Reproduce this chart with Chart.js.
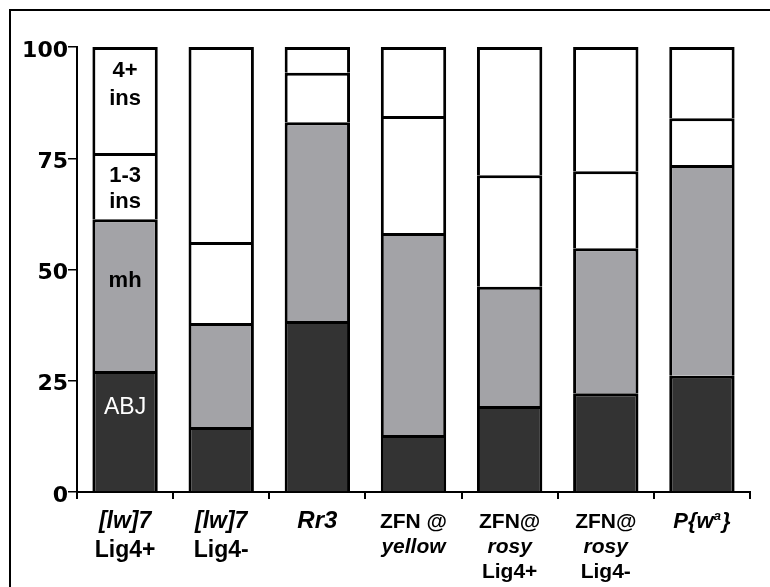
<!DOCTYPE html>
<html>
<head>
<meta charset="utf-8">
<script src="https://cdn.jsdelivr.net/npm/chart.js@4"></script>
<style>
  html, body { margin: 0; padding: 0; background: #fff; }
  #wrap { width: 770px; height: 587px; }
</style>
</head>
<body>
<div id="wrap"><canvas id="bar" width="770" height="587"></canvas></div>
<script>
// categories, each split in lines: [text, italic, superscript, after]
var categories = ['[lw]7 Lig4+', '[lw]7 Lig4-', 'Rr3', 'ZFN @ yellow', 'ZFN@ rosy Lig4+', 'ZFN@ rosy Lig4-', 'P{wa}'];
var catLines = [
    [['[lw]7', true], ['Lig4+', false]],
    [['[lw]7', true], ['Lig4-', false]],
    [['Rr3', true]],
    [['ZFN @', false], ['yellow', true]],
    [['ZFN@', false], ['rosy', true], ['Lig4+', false]],
    [['ZFN@', false], ['rosy', true], ['Lig4-', false]],
    [['P{w', true, 'a', '}']]
];

// percentages per junction class
var abj   = [27.2, 14.6, 38.4, 12.8, 19.3, 22.2, 26.1];
var mh    = [34.1, 23.4, 44.7, 45.4, 26.8, 32.6, 47.4];
var ins13 = [14.9, 18.2, 11.1, 26.3, 25.1, 17.3, 10.5];
var ins4  = [23.8, 43.8, 5.8, 15.5, 28.8, 27.9, 16.0];

var yTicks = [0, 25, 50, 75, 100];

var seriesNames = ['ABJ', 'mh', '1-3 ins', '4+ ins'];
var seriesColors = ['#333333', '#a3a3a7', '#ffffff', '#ffffff'];
var seriesTextColor = ['#ffffff', '#000000', '#000000', '#000000'];

// label font size / line spacing per category
var catFont = [23, 23, 24, 21, 21, 21, 22];
var catStep = [29, 29, 25, 25, 25, 25, 25];

var FAM = '"Liberation Sans", Arial, sans-serif';

const labelsPlugin = {
    id: 'labelsPlugin',
    afterDraw(chart) {
        var ctx = chart.ctx;
        var xs = chart.scales.x;
        ctx.save();
        // outer frame
        ctx.strokeStyle = '#000';
        ctx.lineWidth = 2;
        ctx.beginPath();
        ctx.moveTo(10, 587);
        ctx.lineTo(10, 10);
        ctx.lineTo(770, 10);
        ctx.stroke();

        // x category labels
        ctx.fillStyle = '#000';
        ctx.textBaseline = 'alphabetic';
        for (var i = 0; i < catLines.length; i++) {
            var cx = xs.getPixelForValue(i);
            var fs = catFont[i];
            var lines = catLines[i];
            for (var j = 0; j < lines.length; j++) {
                var ln = lines[j];
                var y = 528 + j * catStep[i];
                var f = (ln[1] ? 'italic ' : '') + 'bold ' + fs + 'px ' + FAM;
                var fSup = (ln[1] ? 'italic ' : '') + 'bold ' + Math.round(fs * 0.6) + 'px ' + FAM;
                ctx.font = f;
                if (ln.length > 2) {
                    var w1 = ctx.measureText(ln[0]).width;
                    var w3 = ctx.measureText(ln[3]).width;
                    ctx.font = fSup;
                    var w2 = ctx.measureText(ln[2]).width + 1;
                    var x0 = cx - (w1 + w2 + w3) / 2;
                    ctx.textAlign = 'left';
                    ctx.font = f;
                    ctx.fillText(ln[0], x0, y);
                    ctx.fillText(ln[3], x0 + w1 + w2, y);
                    ctx.font = fSup;
                    ctx.fillText(ln[2], x0 + w1, y - 8);
                } else {
                    ctx.textAlign = 'center';
                    ctx.fillText(ln[0], cx, y);
                }
            }
        }

        // segment names inside the first bar
        var meta = chart.data.datasets.map(function (ds, d) { return chart.getDatasetMeta(d).data[0]; });
        ctx.textAlign = 'center';
        var b = meta[0];
        ctx.fillStyle = seriesTextColor[0];
        ctx.font = '23px ' + FAM;
        ctx.fillText('ABJ', b.x, b.y + 43);

        b = meta[1];
        ctx.fillStyle = seriesTextColor[1];
        ctx.font = 'bold 22px ' + FAM;
        ctx.fillText('mh', b.x, (b.y + b.base) / 2 - 8);

        b = meta[2];
        ctx.fillStyle = seriesTextColor[2];
        ctx.fillText('1-3', b.x, b.y + 29);
        ctx.fillText('ins', b.x, b.y + 55);

        b = meta[3];
        ctx.fillStyle = seriesTextColor[3];
        ctx.fillText('4+', b.x, b.y + 30);
        ctx.fillText('ins', b.x, b.y + 58);
        ctx.restore();
    }
};

var graphBar = document.getElementById('bar');

var barGraph = new Chart(graphBar, {
    type: 'bar',
    data: {
        labels: categories,
        datasets: [abj, mh, ins13, ins4].map(function (vals, i) {
            return {
                label: seriesNames[i],
                data: vals,
                backgroundColor: seriesColors[i],
                borderColor: '#000',
                borderWidth: 3,
                borderSkipped: 'start',
                barPercentage: 0.68,
                categoryPercentage: 1.0
            };
        })
    },
    options: {
        responsive: false,
        animation: false,
        layout: { padding: { left: 0, top: 47, right: 20, bottom: 0 } },
        plugins: {
            legend: { display: false },
            tooltip: { enabled: false }
        },
        scales: {
            x: {
                stacked: true,
                grid: { drawOnChartArea: false, drawTicks: true, tickLength: 7, color: '#000', lineWidth: 2 },
                border: { color: '#000', width: 2 },
                ticks: { display: false },
                afterFit: function (s) { s.height = 95; }
            },
            y: {
                stacked: true,
                min: 0,
                max: 100,
                afterBuildTicks: function (s) { s.ticks = yTicks.map(function (v) { return { value: v }; }); },
                grid: { drawOnChartArea: false, drawTicks: true, tickLength: 9, color: '#000', lineWidth: 1.5 },
                border: { color: '#000', width: 2 },
                ticks: {
                    color: '#000',
                    padding: 0,
                    labelOffset: 4,
                    font: { family: '"DejaVu Sans", sans-serif', size: 22, weight: 'bold' }
                },
                afterFit: function (s) { s.width = 77; }
            }
        }
    },
    plugins: [labelsPlugin]
});
</script>
</body>
</html>
